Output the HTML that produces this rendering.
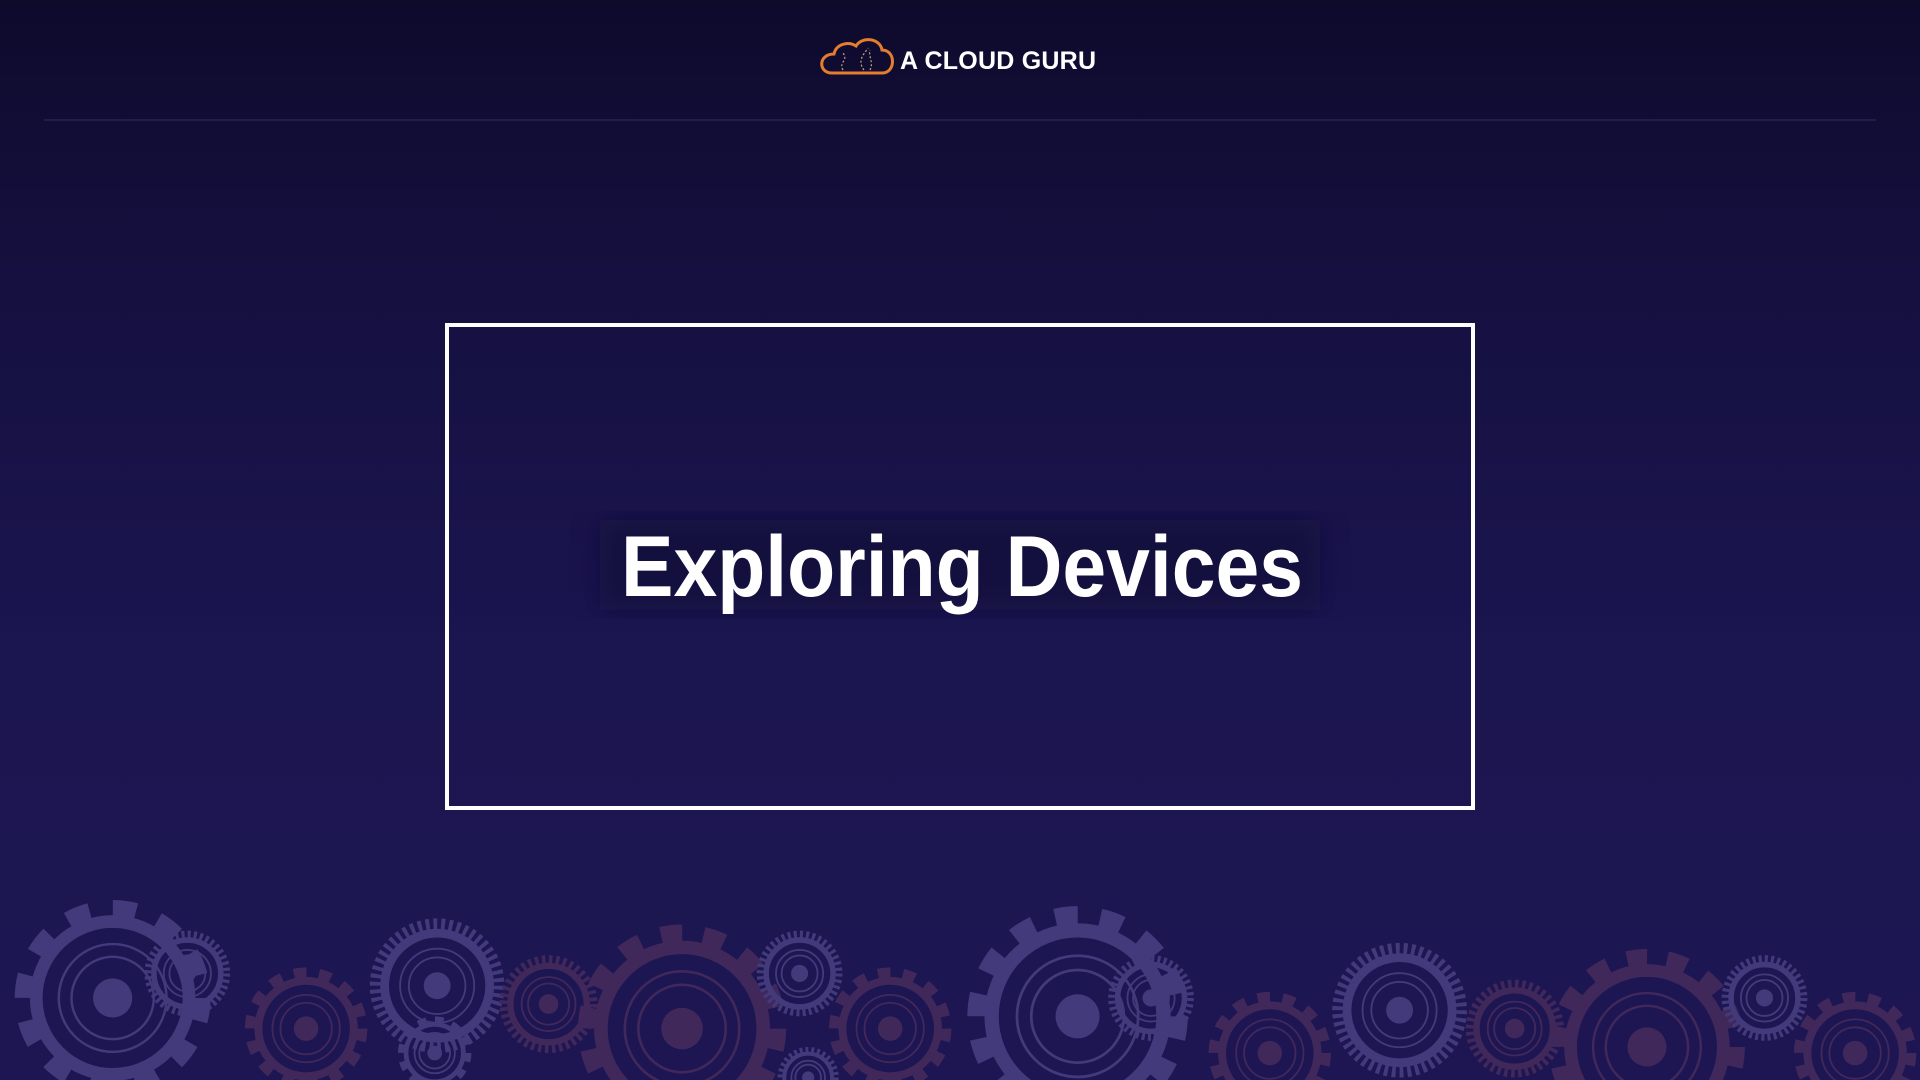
<!DOCTYPE html>
<html><head><meta charset="utf-8"><style>
html,body{margin:0;padding:0;width:1920px;height:1080px;overflow:hidden;background:#1a1448}
svg{display:block}
</style></head><body>
<svg id="s" width="1920" height="1080" viewBox="0 0 1920 1080" xmlns="http://www.w3.org/2000/svg" style="position:absolute;left:0;top:0">
<defs>
<linearGradient id="bg" x1="0" y1="0" x2="0" y2="1">
<stop offset="0" stop-color="#0e0a2c"/><stop offset="0.25" stop-color="#15103f"/><stop offset="0.6" stop-color="#1b1550"/><stop offset="1" stop-color="#1d1652"/>
</linearGradient>
<filter id="blur"><feGaussianBlur stdDeviation="14"/></filter>
<clipPath id="cp"><rect width="1920" height="1080"/></clipPath>
</defs>
<rect width="1920" height="1080" fill="url(#bg)"/>
<line x1="44" y1="120" x2="1876" y2="120" stroke="#1f2049" stroke-width="2"/>
<g id="gears" opacity="0.82" clip-path="url(#cp)"></g>
<g fill="none" stroke="#e47d2e" stroke-width="3">
<path d="M832 73 C818 73 818 54 834 54 C836 44 848 41 856 46 C862 36 880 38 882 50 C896 50 896 73 882 73 Z"/>
</g>
<g fill="none" stroke="#c9a27a" stroke-width="1.2" stroke-dasharray="2 2">
<path d="M843 70 C838 62 850 60 842 52"/><path d="M864 70 C856 60 866 52 868 48"/><path d="M870 70 C874 62 868 56 870 50"/>
</g>
<text x="900" y="69" font-family="Liberation Sans, sans-serif" font-weight="bold" font-size="25" fill="#ffffff" textLength="196">A CLOUD GURU</text>
<rect x="447" y="325" width="1026" height="483" fill="none" stroke="#ffffff" stroke-width="4"/>
<rect x="600" y="520" width="720" height="90" fill="#0f0b30" opacity="0.5" filter="url(#blur)"/>
<text x="621" y="596" font-family="Liberation Sans, sans-serif" font-weight="bold" font-size="86" fill="#ffffff" textLength="682" lengthAdjust="spacingAndGlyphs">Exploring Devices</text>
</svg>
<script>
var g=document.getElementById('gears'),ns='http://www.w3.org/2000/svg',k=1920/1568;
var L='#4b4284',O='#4a2c5c';
var gs=[[92,815,80,L,12],[153,795,35,L,40],[250,840,50,O,14],[357,805,55,L,50],[448,820,40,O,40],[557,840,85,O,14],[653,795,35,L,40],[727,840,50,O,14],[880,830,90,L,14],[940,815,35,L,40],[1037,860,50,O,14],[1143,825,55,L,50],[1237,840,40,O,40],[1345,855,80,O,14],[1441,815,35,L,40],[1515,860,50,O,14],[355,860,30,L,12],[660,880,25,L,30]];
function c(x,y,r,col,w,da,fill){var e=document.createElementNS(ns,'circle');e.setAttribute('cx',x*k);e.setAttribute('cy',y*k);e.setAttribute('r',r*k);e.setAttribute('fill',fill||'none');if(w){e.setAttribute('stroke',col);e.setAttribute('stroke-width',w*k);}if(da)e.setAttribute('stroke-dasharray',da);g.appendChild(e);}
gs.forEach(function(a){var x=a[0],y=a[1],r=a[2],col=a[3],n=a[4];
var tr=r*0.92,circ=2*Math.PI*tr*k,seg=circ/n;
c(x,y,tr,col,r*0.16,(seg*0.5)+' '+(seg*0.5));
c(x,y,r*0.78,col,r*0.13);
c(x,y,r*0.55,col,Math.max(1.5,r*0.025));
c(x,y,r*0.42,col,Math.max(1.5,r*0.025));
c(x,y,r*0.2,null,0,null,col);
});
</script>
</body></html>
